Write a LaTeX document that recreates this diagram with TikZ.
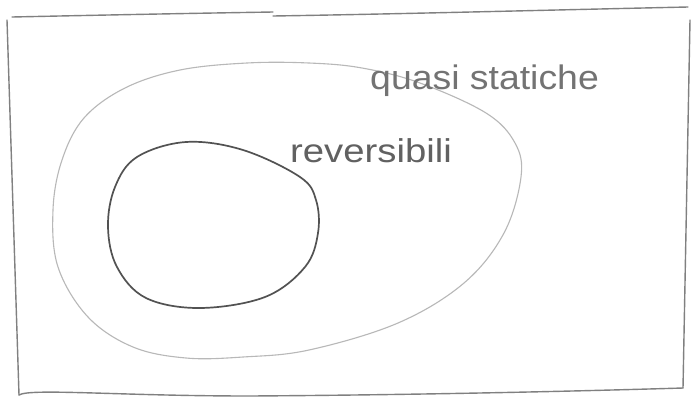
\documentclass[tikz,border=0pt]{standalone}
\usepackage{fontspec}
\setmainfont{Liberation Sans}
\begin{document}
\begin{tikzpicture}[x=1pt,y=-1pt,
  frame/.style={draw=black!50, line width=1.4pt, line join=round, line cap=round},
  outerset/.style={draw=black!28, line width=1.1pt},
  innerset/.style={draw=black!68, line width=1.7pt},
  hand/.style={inner sep=0pt}]
\useasboundingbox (0,0) rectangle (693,405);
\fill[white] (0,0) rectangle (693,405);
% hand-drawn frame
\draw[frame] (12,17) .. controls (60,16) and (150,14) .. (273,12);
\draw[frame] (273,16) .. controls (400,14) and (550,10) .. (688,7);
\draw[frame] (7,20) -- (19,395);
\draw[frame] (690,20) -- (683,388);
\draw[frame] (19,395) .. controls (30,388) and (120,396) .. (250,396)
  .. controls (400,395) and (550,392) .. (683,388);
% outer set: quasi statiche
\draw[outerset] plot[smooth cycle, tension=0.6] coordinates {
  (247,63) (309,63) (362,68) (420,83) (486,113) (515,143) (521,177)
  (504,233) (464,283) (398,323) (309,350) (243,357) (186,358) (133,347)
  (88,317) (58,267) (53,210) (62,160) (84,118) (125,88) (180,70)};
% inner set: reversibili
\draw[innerset] plot[smooth cycle, tension=0.6] coordinates {
  (186,142) (243,150) (300,177) (316,200) (318,233) (305,267) (265,297)
  (200,308) (146,298) (117,267) (108,227) (115,187) (137,157)};
\node[hand, text=black!55, anchor=base west,
  font=\fontsize{34}{34}\selectfont] (qs) at (370,89)
  {\scalebox{1.1}[1]{quasi statiche}};
\node[hand, text=black!62, anchor=base west,
  font=\fontsize{33}{33}\selectfont] (rev) at (290,162)
  {\scalebox{1.16}[1]{reversibili}};
\end{tikzpicture}
\end{document}
